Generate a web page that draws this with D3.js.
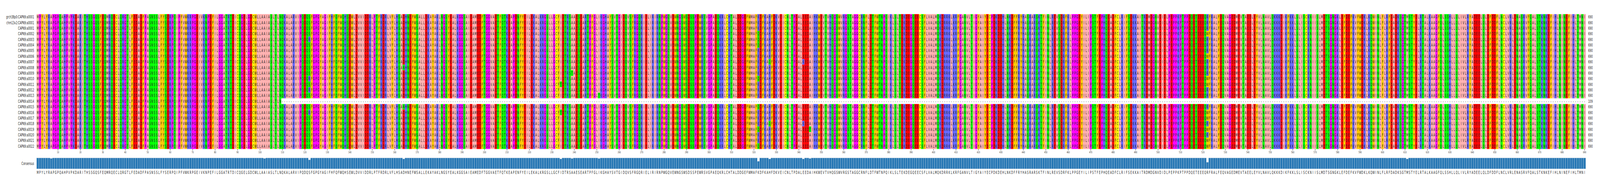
<!DOCTYPE html>
<html>
<head>
<meta charset="utf-8">
<script src="https://cdn.jsdelivr.net/npm/d3@7"></script>
<style>
  html, body { margin: 0; padding: 0; background: #fff; overflow: hidden; width: 100%; height: 100%; }
  #vis { width: 100vw; height: 100vh; }
  svg { display: block; width: 100%; height: 100%; }
  text { font-family: "DejaVu Sans", sans-serif; }
</style>
</head>
<body>
<div id="vis"></div>
<script>
/* Sequence names */
const rowNames = ["grch38p0:CAPN9:a0001", "chm13v2:CAPN9:a0001"]
  .concat(d3.range(1, 23).map(i => "CAPN9:a" + String(i).padStart(4, "0")));

/* Reference sequence (690 aa) */
const refSeq =
  "MPYLYRAPGPQAHPVPKDARITHSSGQSFEQMRQECLQRGTLFEDADFPASNSSLFYSERPQIPFVWKRPGEIVKNPEFILGGATRTDICQGELGDCWLLAAIASLTLNQKAL" +
  "ARVIPQDQSFGPGYAGIFHFQFWQHSEWLDVVIDDRLPTFRDRLVFLHSADHNEFWSALLEKAYAKLNGSYEALKGGSAIEAMEDFTGGVAETFQTKEAPENFYEILEKALKRG" +
  "SLLGCFIDTRSAAESEARTPFGLIKGHAYSVTGIDQVSFRGQRIELIRIRNPWGQVEWNGSWSDSSPEWRSVGPAEQKRLCHTALDDGEFWMAFKDFKAHFDKVEICNLTPDALE" +
  "EDAIHKWEVTVHQGSWVRGSTAGGCRNFLDTFWTNPQIKLSLTEKDEGQEECSFLVALMQKDRRKLKRFGANVLTIGYAIYECPDKDEHLNKDFFRYHASRARSKTFINLREVS" +
  "DRFKLPPGEYILIPSTFEPHQEADFCLRIFSEKKAITRDMDGNVDIDLPEPPKPTPPDQETEEEQRFRALFEQVAGEDMEVTAEELEYVLNAVLQKKKDIKFKKLSLISCKNII" +
  "SLMDTSGNGKLEFDEFKVFWDKLKQWINLFLRFDADKSGTMSTYELRTALKAAGFQLSSHLLQLIVLRYADEELQLDFDDFLNCLVRLENASRVFQALSTKNKEFIHLNINEFIH" +
  "LTMNI";

/* Substitutions: [row, position (1-based), residue] */
const variants = [
  [21, 7, "V"],
  [6, 102, "V"],
  [4, 122, "R"], [11, 122, "R"], [13, 122, "R"], [17, 122, "R"],
  [9, 164, "N"], [16, 164, "N"],
  [12, 234, "T"], [17, 234, "T"],
  [10, 239, "T"],
  [14, 251, "T"],
  [3, 322, "Q"], [4, 322, "Q"], [5, 322, "Q"], [11, 322, "Q"], [16, 322, "Q"], [20, 322, "Q"], [23, 322, "Q"],
  [8, 327, "Q"], [19, 327, "Q"],
  [8, 342, "K"], [19, 342, "K"],
  [20, 345, "T"],
  [3, 522, "W"], [7, 522, "W"], [11, 522, "W"], [12, 522, "W"], [17, 522, "W"], [18, 522, "W"],
  [20, 522, "W"], [22, 522, "W"], [23, 522, "W"],
  [7, 611, "I"], [8, 611, "I"]
];

/* Truncated sequences: [row, length] */
const truncated = [[15, 109]];

/* Zappo colours */
const zappo = {
  A:"#ffafaf", I:"#ffafaf", L:"#ffafaf", M:"#ffafaf", V:"#ffafaf",
  F:"#ffc800", W:"#ffc800", Y:"#ffc800",
  H:"#6464ff", K:"#6464ff", R:"#6464ff",
  D:"#ff0000", E:"#ff0000",
  S:"#00ff00", T:"#00ff00", N:"#00ff00", Q:"#00ff00",
  G:"#ff00ff", P:"#ff00ff",
  C:"#ffff00", "-":"#ffffff"
};

/* build sequences */
const seqs = rowNames.map(() => refSeq.split(""));
variants.forEach(([r, p, aa]) => { seqs[r][p - 1] = aa; });
truncated.forEach(([r, n]) => { for (let i = n; i < refSeq.length; i++) seqs[r][i] = "-"; });
const seqLen = seqs.map(s => s.filter(c => c !== "-").length);

const nCol = refSeq.length;
const cols = d3.range(1, nCol + 1);

/* consensus + conservation */
const consensus = cols.map(p => {
  const res = seqs.map(s => s[p - 1]).filter(c => c !== "-");
  const counts = d3.rollup(res, v => v.length, c => c);
  const [aa, n] = d3.greatest(counts, d => d[1]);
  return { pos: p, aa, frac: n / res.length };
});

const W = 7184, H = 481;
const svg = d3.select("#vis").append("svg")
  .attr("viewBox", [0, 0, W, H])
  .attr("preserveAspectRatio", "none");

const x = d3.scaleBand().domain(cols).range([164.5, 7120]);
const y = d3.scaleBand().domain(d3.range(rowNames.length)).range([36, 381]);

/* cells */
const rows = svg.append("g").selectAll("g").data(seqs).join("g")
  .attr("transform", (d, i) => `translate(0,${y(i)})`);

rows.selectAll("rect").data(d => d).join("rect")
  .attr("x", (d, i) => x(i + 1)).attr("width", x.bandwidth() + 0.3)
  .attr("height", y.bandwidth() + 0.3)
  .attr("fill", d => zappo[d] || "#fff");

rows.selectAll("text").data(d => d).join("text")
  .attr("x", (d, i) => x(i + 1) + x.bandwidth() / 2)
  .attr("y", y.bandwidth() / 2 + 4)
  .attr("text-anchor", "middle").attr("font-size", 10.5).attr("fill", "#222")
  .text(d => d);

/* row labels */
svg.append("g").selectAll("text").data(rowNames).join("text")
  .attr("x", 153).attr("y", (d, i) => y(i) + y.bandwidth() / 2 + 4)
  .attr("text-anchor", "end").attr("font-size", 10.5).attr("fill", "#222")
  .text(d => d);

/* lengths */
svg.append("g").selectAll("text").data(seqLen).join("text")
  .attr("x", 7131).attr("y", (d, i) => y(i) + y.bandwidth() / 2 + 4)
  .attr("font-size", 10.5).attr("fill", "#222")
  .text(d => d);

/* position axis */
const axis = d3.axisBottom(x).tickValues(cols.filter(p => p % 10 === 0)).tickSize(4).tickPadding(2);
svg.append("g").attr("transform", "translate(0,381)").call(axis)
  .call(g => g.select(".domain").remove())
  .call(g => g.selectAll("text").attr("font-size", 7.5).attr("fill", "#333")
     .attr("font-family", "DejaVu Sans"))
  .call(g => g.selectAll("line").attr("stroke", "#333"));

/* consensus bars */
const yc = d3.scaleLinear().domain([0, 1]).range([432, 404]);
svg.append("g").selectAll("rect").data(consensus).join("rect")
  .attr("x", d => x(d.pos)).attr("width", x.bandwidth())
  .attr("y", d => yc(d.frac)).attr("height", d => yc(0) - yc(d.frac))
  .attr("fill", "#2878b5").attr("stroke", "#d0dbe6").attr("stroke-width", 0.7);

svg.append("text").attr("x", 153).attr("y", 422).attr("text-anchor", "end")
  .attr("font-size", 10.5).attr("fill", "#222").text("Consensus");

svg.append("g").selectAll("text").data(consensus).join("text")
  .attr("x", d => x(d.pos) + x.bandwidth() / 2).attr("y", 445)
  .attr("text-anchor", "middle").attr("font-size", 10.5).attr("fill", "#222")
  .text(d => d.aa);
</script>
</body>
</html>
